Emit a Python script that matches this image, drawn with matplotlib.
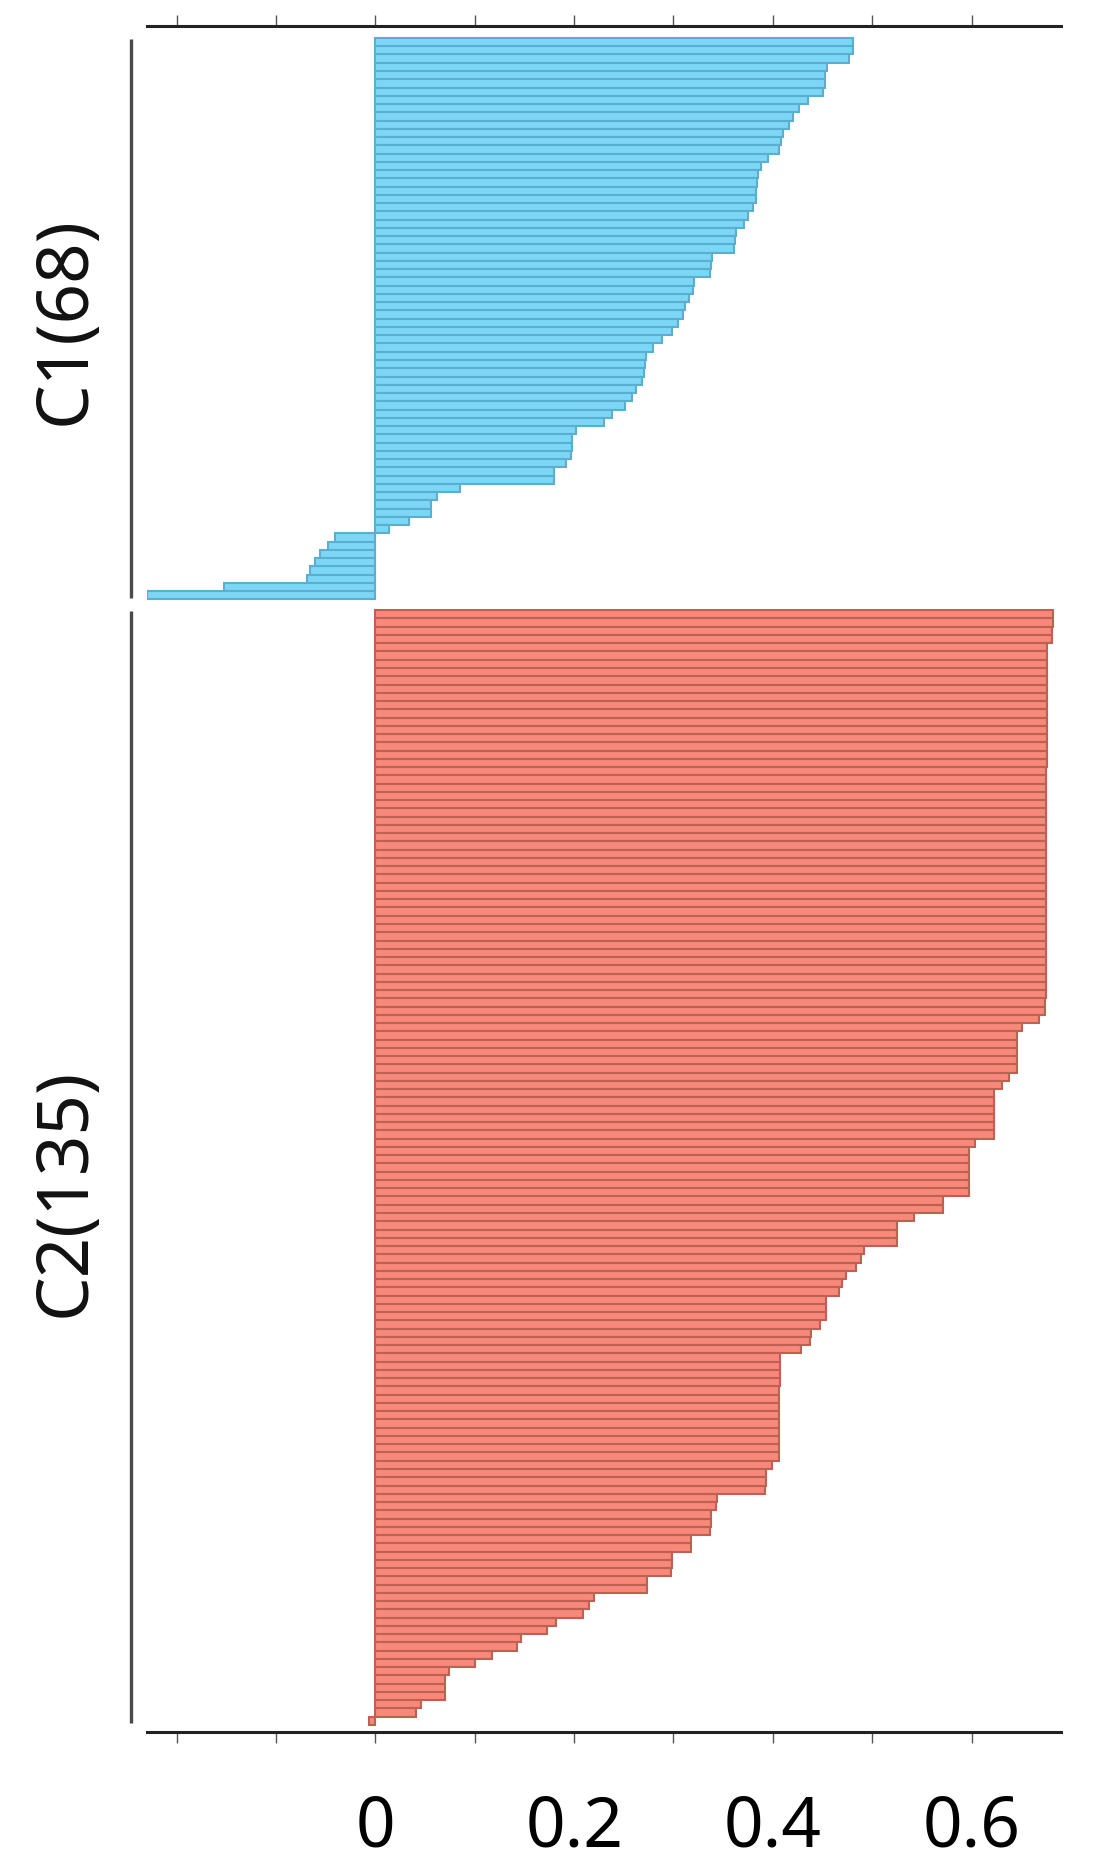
import numpy as np
import matplotlib
matplotlib.use("Agg")
from matplotlib import pyplot as plt
from matplotlib import transforms

plt.rcParams['font.family'] = ['Noto Sans', 'DejaVu Sans']

# silhouette widths, sorted within each cluster (top to bottom)
c1_sil = [0.481, 0.481, 0.477, 0.455, 0.453, 0.453, 0.450, 0.435, 0.426, 0.420,
          0.416, 0.410, 0.408, 0.406, 0.395, 0.388, 0.385, 0.384, 0.383, 0.383,
          0.380, 0.375, 0.371, 0.363, 0.362, 0.361, 0.339, 0.338, 0.337, 0.321,
          0.320, 0.316, 0.312, 0.310, 0.305, 0.298, 0.288, 0.279, 0.272, 0.271,
          0.270, 0.268, 0.262, 0.258, 0.251, 0.238, 0.230, 0.202, 0.198, 0.198,
          0.197, 0.192, 0.180, 0.180, 0.085, 0.062, 0.056, 0.056, 0.034, 0.014,
          -0.041, -0.048, -0.056, -0.061, -0.066, -0.069, -0.152, -0.230]
c2_sil = [0.682, 0.682, 0.681, 0.681, 0.676, 0.676, 0.676, 0.676, 0.676, 0.676,
          0.676, 0.676, 0.676, 0.676, 0.676, 0.676, 0.676, 0.676, 0.676, 0.675,
          0.675, 0.675, 0.675, 0.675, 0.675, 0.675, 0.675, 0.675, 0.675, 0.675,
          0.675, 0.675, 0.675, 0.675, 0.675, 0.675, 0.675, 0.675, 0.675, 0.675,
          0.675, 0.675, 0.675, 0.675, 0.675, 0.675, 0.675, 0.674, 0.674, 0.668,
          0.651, 0.646, 0.646, 0.646, 0.646, 0.646, 0.638, 0.631, 0.623, 0.623,
          0.623, 0.623, 0.623, 0.623, 0.603, 0.597, 0.597, 0.597, 0.597, 0.597,
          0.597, 0.571, 0.571, 0.542, 0.525, 0.525, 0.525, 0.492, 0.489, 0.484,
          0.474, 0.470, 0.467, 0.454, 0.454, 0.454, 0.447, 0.438, 0.437, 0.428,
          0.407, 0.407, 0.407, 0.407, 0.406, 0.406, 0.406, 0.406, 0.406, 0.406,
          0.406, 0.406, 0.406, 0.399, 0.393, 0.393, 0.392, 0.344, 0.343, 0.338,
          0.338, 0.337, 0.318, 0.318, 0.298, 0.298, 0.297, 0.273, 0.273, 0.220,
          0.215, 0.209, 0.182, 0.173, 0.147, 0.142, 0.117, 0.100, 0.074, 0.070,
          0.070, 0.070, 0.046, 0.041, -0.006]
cluster_labels = ["C1(68)", "C2(135)"]
x_ticks = [-0.2, -0.1, 0, 0.1, 0.2, 0.3, 0.4, 0.5, 0.6]
x_ticklabels = ["", "", "0", "", "0.2", "", "0.4", "", "0.6"]

GAP = 1.3
fills = ["#7ed6f6", "#f7887a"]
edges = ["#5aaed0", "#bd6253"]
label_shift = [0.3, 3.0]   # label nudge in bar units

fig = plt.figure(figsize=(10.95, 18.7), dpi=100)
ax = fig.add_axes([0.1342, 0.0738, 0.8347, 0.9123])

bracket = transforms.blended_transform_factory(ax.transAxes, ax.transData)
start = 0.0
for vals, lab, fc, ec, sh in zip([c1_sil, c2_sil], cluster_labels, fills, edges, label_shift):
    pos = start + np.arange(len(vals))
    ax.barh(pos, vals, height=1.0, left=0, color=fc, edgecolor=ec, linewidth=1.5)
    top, bot = pos[0] - 0.4, pos[-1] + 0.3
    ax.plot([-0.0175, -0.0175], [top, bot], color="#4a4a4a", lw=2.4,
            transform=bracket, clip_on=False, solid_capstyle="butt")
    ax.text(-0.088, (top + bot) / 2 + sh, lab, rotation=90, ha="center", va="center",
            fontsize=51, transform=bracket, color="#111111")
    start = pos[-1] + 1 + GAP

ax.set_xlim(-0.23, 0.69)
ax.set_ylim(start - GAP - 1 + 0.85 + 0.5, -1.95)

ax.set_xticks(x_ticks)
ax.set_xticklabels(x_ticklabels)
ax.set_yticks([])
ax.tick_params(axis="x", which="both", bottom=True, top=True, direction="out",
               length=8, width=1.0, color="#555555", labelsize=50, pad=36)
for s in ["left", "right"]:
    ax.spines[s].set_visible(False)
for s in ["top", "bottom"]:
    ax.spines[s].set_linewidth(2.2)
    ax.spines[s].set_color("#222222")

plt.savefig("out.png", dpi=100)
